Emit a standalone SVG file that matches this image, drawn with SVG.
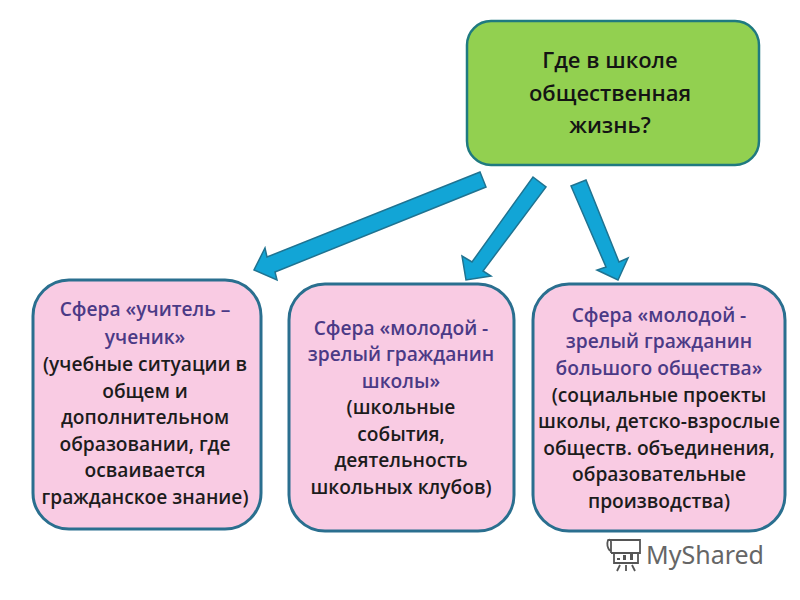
<svg xmlns="http://www.w3.org/2000/svg" width="800" height="600" viewBox="0 0 800 600">
<style>
text{font-family:"Open Sans","Noto Sans","Liberation Sans",sans-serif;font-weight:600;text-anchor:middle;font-size:19.2px;fill:#1c1c1c}
.h{fill:#4b3a86}
.t{font-size:22px;font-weight:600;fill:#141414}
.card{fill:#f9cbe3;stroke:#2a6f8f;stroke-width:3}
.arr{fill:#12a5d6;stroke:#1f7391;stroke-width:1.5;stroke-linejoin:miter}
.logo{fill:none;stroke:#555;stroke-width:1.8}
</style>
<rect width="800" height="600" fill="#fff"/>
<g id="connectors">
<polygon class="arr" points="480,172 486,187 275,272 277,280 254,270 265,248 267,257"/>
<polygon class="arr" points="533,177 546,187 483,271 491,276 466,280 462,256 472,262"/>
<polygon class="arr" points="571,186 586,180 619,262 628,258 618,280 597,270 606,267"/>
</g>
<g id="top">
<rect x="467" y="21" width="292" height="144" rx="24" fill="#92d050" stroke="#1f7a80" stroke-width="2.5"/>
<text class="t" x="610" y="68">Где в школе</text>
<text class="t" x="610" y="101">общественная</text>
<text class="t" x="610" y="133">жизнь?</text>
</g>
<g id="card1">
<rect class="card" x="33" y="280" width="228" height="249" rx="36"/>
<text class="h" x="145" y="316">Сфера «учитель –</text>
<text class="h" x="145" y="344">ученик»</text>
<text x="145" y="371">(учебные ситуации в</text>
<text x="145" y="398">общем и</text>
<text x="145" y="424">дополнительном</text>
<text x="145" y="451">образовании, где</text>
<text x="145" y="477">осваивается</text>
<text x="145" y="504">гражданское знание)</text>
</g>
<g id="card2">
<rect class="card" x="289" y="284" width="225" height="247" rx="36"/>
<text class="h" x="401" y="335">Сфера «молодой -</text>
<text class="h" x="401" y="361">зрелый гражданин</text>
<text class="h" x="401" y="388">школы»</text>
<text x="401" y="414">(школьные</text>
<text x="401" y="441">события,</text>
<text x="401" y="467">деятельность</text>
<text x="401" y="494">школьных клубов)</text>
</g>
<g id="card3">
<rect class="card" x="533" y="284" width="252" height="247" rx="36"/>
<text class="h" x="659" y="322">Сфера «молодой -</text>
<text class="h" x="659" y="348">зрелый гражданин</text>
<text class="h" x="659" y="375">большого общества»</text>
<text x="659" y="402">(социальные проекты</text>
<text x="659" y="428">школы, детско-взрослые</text>
<text x="659" y="455">обществ. объединения,</text>
<text x="659" y="481">образовательные</text>
<text x="659" y="508">производства)</text>
</g>
<g id="watermark">
<path class="logo" d="M611 553V542Q611 539 608 540Q606 546 610 551M608 540H640V553H611M614 553V563H638V553"/>
<path d="M617 560h3v-2h-3zM623 560h3v-5h-3zM630 560h3v-8h-3z" fill="#555"/>
<path class="logo" d="M620 565L617 571M626 565V571M632 565L635 571"/>
<text x="705" y="564" style="font-size:25px;font-weight:400;fill:#666;font-family:'Noto Sans','Open Sans',sans-serif">MyShared</text>
</g>
</svg>
